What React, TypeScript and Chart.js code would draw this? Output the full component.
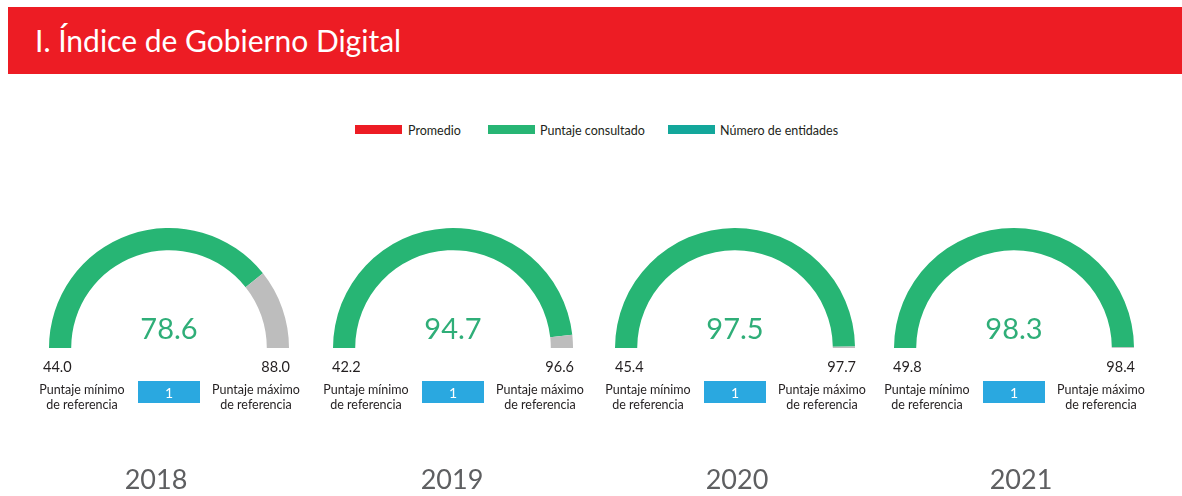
import React, { useEffect, useRef } from 'react';
import { Chart, registerables } from 'chart.js';

Chart.register(...registerables);

// ---- data ----
const years = ['2018', '2019', '2020', '2021'];
const scores = [78.6, 94.7, 97.5, 98.3];
const minScores = [44.0, 42.2, 45.4, 49.8];
const maxScores = [88.0, 96.6, 97.7, 98.4];
const entityCounts = [1, 1, 1, 1];
const legendLabels = ['Promedio', 'Puntaje consultado', 'Número de entidades'];
const minCaption = ['Puntaje mínimo', 'de referencia'];
const maxCaption = ['Puntaje máximo', 'de referencia'];
const titleText = 'I. Índice de Gobierno Digital';

// ---- styles / layout ----
const RED = '#ED1C24';
const GREEN = '#27B574';
const TEAL = '#13A79B';
const GRAY = '#BDBDBD';
const BLUE = '#2AA8E0';
const VALUE_GREEN = '#2FAE78';
const INK = '#231F20';
const YEAR_INK = '#5E5F61';
const legendColors = [RED, GREEN, TEAL];

const FONT = 'Lato, "Open Sans", sans-serif';
const gaugeCenters = [169, 453, 735, 1014];
const yearShift = [-13, -1, 2, 7];
const minShift = [-126, -121, -120, -121];
const COL_W = 282;
const CANVAS_TOP = 220;
const CANVAS_H = 276;
const legendSwatchX = [355, 488, 668];
const legendTextX = [408, 540, 720];

export default function App() {
  const refs = useRef<(HTMLCanvasElement | null)[]>([]);

  useEffect(() => {
    const charts = years.map((year, i) => {
      const canvas = refs.current[i] as HTMLCanvasElement;
      const textPlugin = {
        id: 'gaugeText',
        afterDraw(chart: any) {
          const arc = chart.getDatasetMeta(0).data[0];
          if (!arc) return;
          const cx = arc.x;
          const cy = arc.y;
          const ctx = chart.ctx as CanvasRenderingContext2D;
          ctx.save();
          ctx.textBaseline = 'alphabetic';

          // centre value
          ctx.fillStyle = VALUE_GREEN;
          ctx.font = `29px ${FONT}`;
          ctx.textAlign = 'center';
          ctx.fillText(scores[i].toFixed(1), cx, cy - 9);

          // min / max numbers
          ctx.fillStyle = INK;
          ctx.font = `14.5px ${FONT}`;
          ctx.textAlign = 'left';
          ctx.fillText(minScores[i].toFixed(1), cx + minShift[i], cy + 24);
          ctx.textAlign = 'right';
          ctx.fillText(maxScores[i].toFixed(1), cx + 121, cy + 24);

          // captions
          ctx.font = `12.5px ${FONT}`;
          ctx.textAlign = 'center';
          minCaption.forEach((t, k) => ctx.fillText(t, cx - 87, cy + 46 + k * 15));
          maxCaption.forEach((t, k) => ctx.fillText(t, cx + 87, cy + 46 + k * 15));

          // entities box
          ctx.fillStyle = BLUE;
          ctx.fillRect(cx - 31, cy + 33, 62, 22);
          ctx.fillStyle = '#FFFFFF';
          ctx.font = `14px ${FONT}`;
          ctx.textBaseline = 'middle';
          ctx.fillText(String(entityCounts[i]), cx, cy + 45);

          // year
          ctx.textBaseline = 'alphabetic';
          ctx.fillStyle = YEAR_INK;
          ctx.font = `27px ${FONT}`;
          ctx.fillText(year, cx + yearShift[i], cy + 141);
          ctx.restore();
        },
      };
      return new Chart(canvas, {
        type: 'doughnut',
        data: {
          labels: ['Puntaje consultado', 'Hasta máximo'],
          datasets: [
            {
              data: [scores[i] - minScores[i], maxScores[i] - scores[i]],
              backgroundColor: [GREEN, GRAY],
              borderWidth: 0,
            },
          ],
        },
        options: {
          responsive: false,
          animation: false,
          rotation: -90,
          circumference: 180,
          cutout: '81.5%',
          events: [],
          layout: { padding: { left: 21, right: 21, top: 8, bottom: 148 } },
          plugins: { legend: { display: false }, tooltip: { enabled: false } },
        },
        plugins: [textPlugin],
      } as any);
    });
    return () => charts.forEach((c) => c.destroy());
  }, []);

  return (
    <div
      style={{
        position: 'absolute',
        left: 0,
        top: 0,
        width: 1182,
        height: 496,
        background: '#FFFFFF',
        overflow: 'hidden',
        fontFamily: FONT,
      }}
    >
      <div
        style={{
          position: 'absolute',
          left: 8,
          top: 7,
          width: 1174,
          height: 67,
          background: RED,
        }}
      />
      <div
        style={{
          position: 'absolute',
          left: 35,
          top: 22.4,
          fontSize: 30,
          lineHeight: 'normal',
          color: '#FFFFFF',
          whiteSpace: 'nowrap',
        }}
      >
        {titleText}
      </div>

      {legendLabels.map((label, k) => (
        <React.Fragment key={label}>
          <div
            style={{
              position: 'absolute',
              left: legendSwatchX[k],
              top: 125,
              width: 47,
              height: 9,
              background: legendColors[k],
            }}
          />
          <div
            style={{
              position: 'absolute',
              left: legendTextX[k],
              top: 123,
              fontSize: 12.5,
              lineHeight: 'normal',
              color: INK,
              whiteSpace: 'nowrap',
            }}
          >
            {label}
          </div>
        </React.Fragment>
      ))}

      {years.map((year, i) => (
        <canvas
          key={year}
          ref={(el) => {
            refs.current[i] = el;
          }}
          width={COL_W}
          height={CANVAS_H}
          style={{
            position: 'absolute',
            left: gaugeCenters[i] - COL_W / 2,
            top: CANVAS_TOP,
            width: COL_W,
            height: CANVAS_H,
          }}
        />
      ))}
    </div>
  );
}
